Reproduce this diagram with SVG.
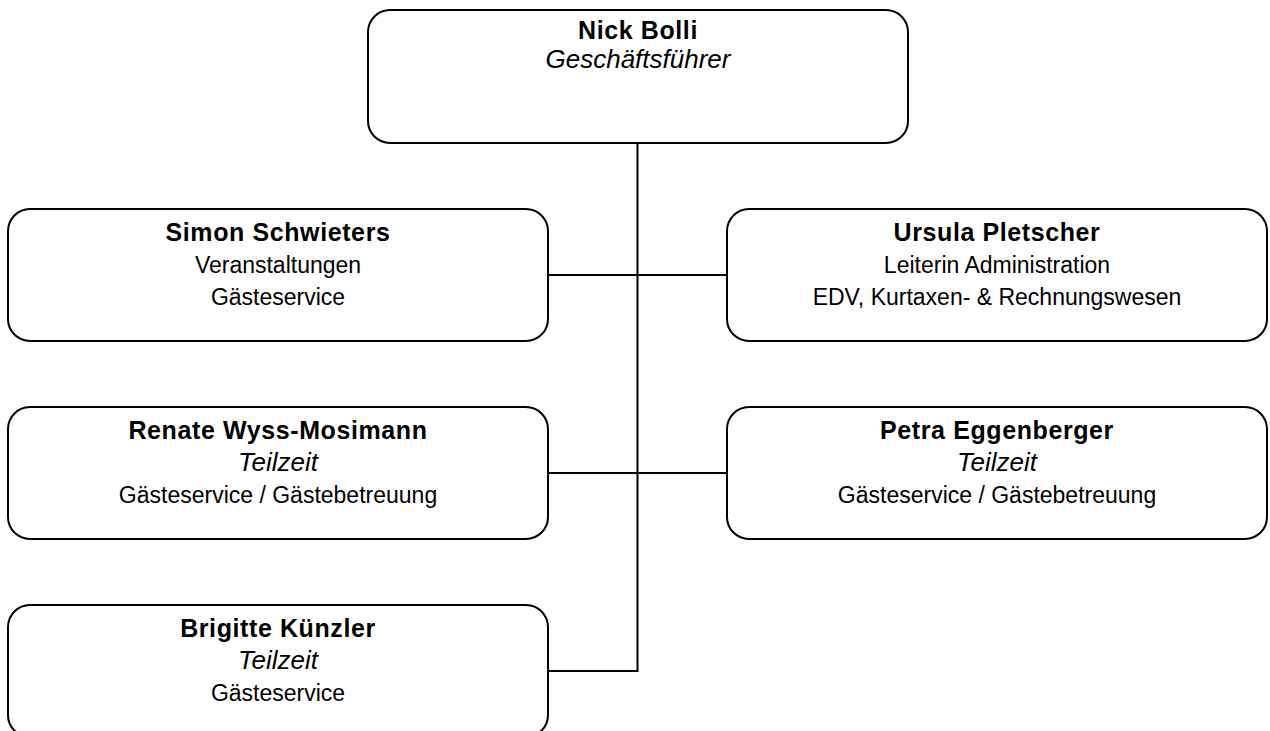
<svg xmlns="http://www.w3.org/2000/svg" width="1270" height="731" viewBox="0 0 1270 731">
<style>
.box{fill:#fff;stroke:#000;stroke-width:2}
.ln{fill:none;stroke:#000;stroke-width:2}
text{font-family:"Liberation Sans",Arial,sans-serif;font-size:23px;fill:#000;text-anchor:middle}
.b{font-weight:bold;font-size:25px;letter-spacing:0.6px}
.i{font-style:italic;font-size:26px}
</style>
<rect width="1270" height="731" fill="#fff"/>
<g id="connectors">
<path class="ln" d="M637.5 143 V671 H548"/>
<path class="ln" d="M548 275 H727"/>
<path class="ln" d="M548 473 H727"/>
</g>
<g id="nick">
<rect class="box" x="368" y="10" width="540" height="133" rx="22"/>
<text class="b" x="638" y="39">Nick Bolli</text>
<text class="i" x="638" y="68">Geschäftsführer</text>
</g>
<g id="simon">
<rect class="box" x="8" y="209" width="540" height="132" rx="22"/>
<text class="b" x="278" y="241">Simon Schwieters</text>
<text x="278" y="273">Veranstaltungen</text>
<text x="278" y="305">Gästeservice</text>
</g>
<g id="ursula">
<rect class="box" x="727" y="209" width="540" height="132" rx="22"/>
<text class="b" x="997" y="241">Ursula Pletscher</text>
<text x="997" y="273">Leiterin Administration</text>
<text x="997" y="305">EDV, Kurtaxen- &amp; Rechnungswesen</text>
</g>
<g id="renate">
<rect class="box" x="8" y="407" width="540" height="132" rx="22"/>
<text class="b" x="278" y="439">Renate Wyss-Mosimann</text>
<text class="i" x="278" y="471">Teilzeit</text>
<text x="278" y="503">Gästeservice / Gästebetreuung</text>
</g>
<g id="petra">
<rect class="box" x="727" y="407" width="540" height="132" rx="22"/>
<text class="b" x="997" y="439">Petra Eggenberger</text>
<text class="i" x="997" y="471">Teilzeit</text>
<text x="997" y="503">Gästeservice / Gästebetreuung</text>
</g>
<g id="brigitte">
<rect class="box" x="8" y="605" width="540" height="132" rx="22"/>
<text class="b" x="278" y="637">Brigitte Künzler</text>
<text class="i" x="278" y="669">Teilzeit</text>
<text x="278" y="701">Gästeservice</text>
</g>
</svg>
